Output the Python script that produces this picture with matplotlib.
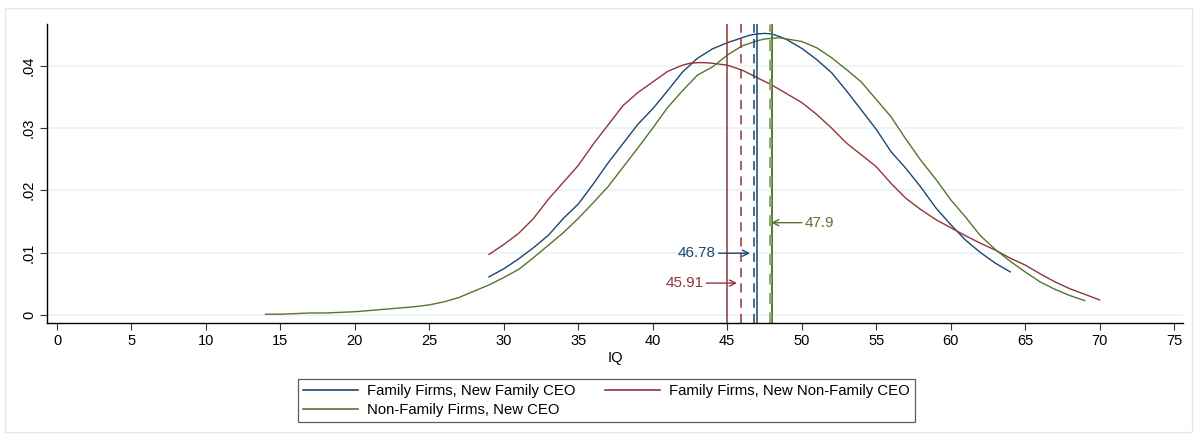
import numpy as np
import matplotlib
matplotlib.use("Agg")
import matplotlib.pyplot as plt
from matplotlib.lines import Line2D
from matplotlib.patches import Rectangle

plt.rcParams['font.family'] = ['Liberation Sans', 'DejaVu Sans']

# kernel density estimates of IQ by group
iq_fam = [29, 30, 31, 32, 33, 34, 35, 36, 37, 38, 39, 40, 41, 42, 43, 44, 45, 46,
          46.5, 47, 47.5, 48, 48.5, 49, 50, 51, 52, 53, 54, 55, 56, 57, 58, 59,
          60, 61, 62, 63, 64]
dens_fam = [0.0061, 0.0074, 0.0090, 0.0108, 0.0128, 0.0155, 0.0178, 0.0210,
            0.0244, 0.0275, 0.0306, 0.0331, 0.0360, 0.0390, 0.0412, 0.0427,
            0.0437, 0.0445, 0.0449, 0.0451, 0.0452, 0.0451, 0.0447, 0.0442,
            0.0428, 0.0410, 0.0389, 0.0360, 0.0329, 0.0298, 0.0262, 0.0235,
            0.0205, 0.0172, 0.0145, 0.0120, 0.0100, 0.0083, 0.0069]

iq_nonfam = [29, 30, 31, 32, 33, 34, 35, 36, 37, 38, 39, 40, 41, 42, 42.5, 43,
             43.5, 44, 45, 46, 47, 48, 49, 50, 51, 52, 53, 54, 55, 56, 57, 58,
             59, 60, 61, 62, 63, 64, 65, 66, 67, 68, 69, 70]
dens_nonfam = [0.0097, 0.0113, 0.0131, 0.0155, 0.0186, 0.0213, 0.0240, 0.0274,
               0.0305, 0.0336, 0.0357, 0.0374, 0.0391, 0.0401, 0.0404, 0.0405,
               0.0405, 0.0404, 0.0401, 0.0393, 0.0381, 0.0369, 0.0355, 0.0341,
               0.0322, 0.0300, 0.0276, 0.0257, 0.0238, 0.0211, 0.0187, 0.0169,
               0.0153, 0.0140, 0.0127, 0.0115, 0.0104, 0.0091, 0.0080, 0.0066,
               0.0053, 0.0042, 0.0033, 0.0024]

iq_other = [14, 15, 16, 17, 18, 19, 20, 21, 22, 23, 24, 25, 26, 27, 28, 29, 30,
            31, 32, 33, 34, 35, 36, 37, 38, 39, 40, 41, 42, 43, 44, 45, 46, 47,
            47.5, 48, 48.5, 49, 49.5, 50, 51, 52, 53, 54, 55, 56, 57, 58, 59, 60,
            61, 62, 63, 64, 65, 66, 67, 68, 69]
dens_other = [0.0001, 0.0001, 0.0002, 0.0003, 0.0003, 0.0004, 0.0005, 0.0007,
              0.0009, 0.0011, 0.0013, 0.0016, 0.0021, 0.0028, 0.0038, 0.0048,
              0.0060, 0.0073, 0.0092, 0.0112, 0.0132, 0.0155, 0.0180, 0.0206,
              0.0237, 0.0268, 0.0300, 0.0333, 0.0360, 0.0385, 0.0398, 0.0417,
              0.0432, 0.0440, 0.0443, 0.0444, 0.0445, 0.0443, 0.0441, 0.0439,
              0.0429, 0.0413, 0.0394, 0.0374, 0.0346, 0.0318, 0.0282, 0.0248,
              0.0218, 0.0185, 0.0157, 0.0127, 0.0105, 0.0086, 0.0069, 0.0053,
              0.0041, 0.0031, 0.0023]

# medians (solid) and means (dashed)
median_fam, mean_fam = 47, 46.78
median_nonfam, mean_nonfam = 45, 45.91
median_other, mean_other = 48, 47.9

# heights of the mean labels
label_y = {'fam': 0.0099, 'nonfam': 0.0051, 'other': 0.0148}

labels = ['Family Firms, New Family CEO', 'Family Firms, New Non-Family CEO',
          'Non-Family Firms, New CEO']

navy = '#1a476f'
maroon = '#90353b'
green = '#55752f'

fig = plt.figure(figsize=(11.97, 4.37), dpi=100)
fig.patches.append(Rectangle((0.004, 0.011), 0.992, 0.97, transform=fig.transFigure,
                             fill=False, edgecolor='#e4e8eb', linewidth=1))
ax = fig.add_axes([0.0393, 0.261, 0.949, 0.684])

ax.plot(iq_fam, dens_fam, color=navy, lw=1.0)
ax.plot(iq_nonfam, dens_nonfam, color=maroon, lw=1.0)
ax.plot(iq_other, dens_other, color=green, lw=1.0)

ax.axvline(median_nonfam, color=maroon, lw=1.1)
ax.axvline(mean_nonfam, color=maroon, lw=1.1, ls=(0, (6, 4)))
ax.axvline(mean_fam, color=navy, lw=1.1, ls=(0, (6, 4)))
ax.axvline(median_fam, color=navy, lw=1.1)
ax.axvline(median_other, color=green, lw=1.4)
ax.axvline(mean_other, color='#8aa66a', lw=2.0, ls=(0, (4, 3)))

arrow_kw = dict(arrowstyle='->', lw=1.0, shrinkA=0, shrinkB=0)
ax.annotate(f'{mean_fam:g}', xy=(mean_fam - 0.25, label_y['fam']),
            xytext=(mean_fam - 2.55, label_y['fam']), color=navy, fontsize=11,
            ha='right', va='center', arrowprops=dict(color=navy, **arrow_kw))
ax.annotate(f'{mean_nonfam:g}', xy=(mean_nonfam - 0.25, label_y['nonfam']),
            xytext=(mean_nonfam - 2.5, label_y['nonfam']), color=maroon, fontsize=11,
            ha='right', va='center', arrowprops=dict(color=maroon, **arrow_kw))
ax.annotate(f'{mean_other:g}', xy=(mean_other + 0.05, label_y['other']),
            xytext=(mean_other + 2.3, label_y['other']), color=green, fontsize=11,
            ha='left', va='center', arrowprops=dict(color=green, **arrow_kw))

ax.set_xlim(-0.67, 75.6)
ax.set_ylim(-0.0013, 0.0467)
ax.set_xticks(np.arange(0, 80, 5))
ax.set_yticks([0, 0.01, 0.02, 0.03, 0.04])
ax.set_yticklabels(['0', '.01', '.02', '.03', '.04'], rotation=90, va='center')
ax.tick_params(labelsize=10.5, length=5, width=0.8, color='#333333', pad=3)
ax.grid(axis='y', color='#eaf2f3', lw=1.2)
ax.set_axisbelow(True)
for side in ['top', 'right']:
    ax.spines[side].set_visible(False)
for side in ['left', 'bottom']:
    ax.spines[side].set_linewidth(1.0)
ax.set_xlabel('IQ', fontsize=10.5, labelpad=2)

handles = [Line2D([], [], color=navy, lw=1.2),
           Line2D([], [], color=green, lw=1.2),
           Line2D([], [], color=maroon, lw=1.2)]
leg = fig.legend(handles, [labels[0], labels[2], labels[1]], ncol=2,
                 loc='lower left', bbox_to_anchor=(0.249, 0.034),
                 fontsize=10.7, frameon=True, fancybox=False,
                 handlelength=3.7, handletextpad=0.6, borderpad=0.35,
                 labelspacing=0.3, columnspacing=2.0, borderaxespad=0)
leg.get_frame().set_edgecolor('#333333')
leg.get_frame().set_linewidth(0.9)

fig.savefig('out.png', dpi=100)
